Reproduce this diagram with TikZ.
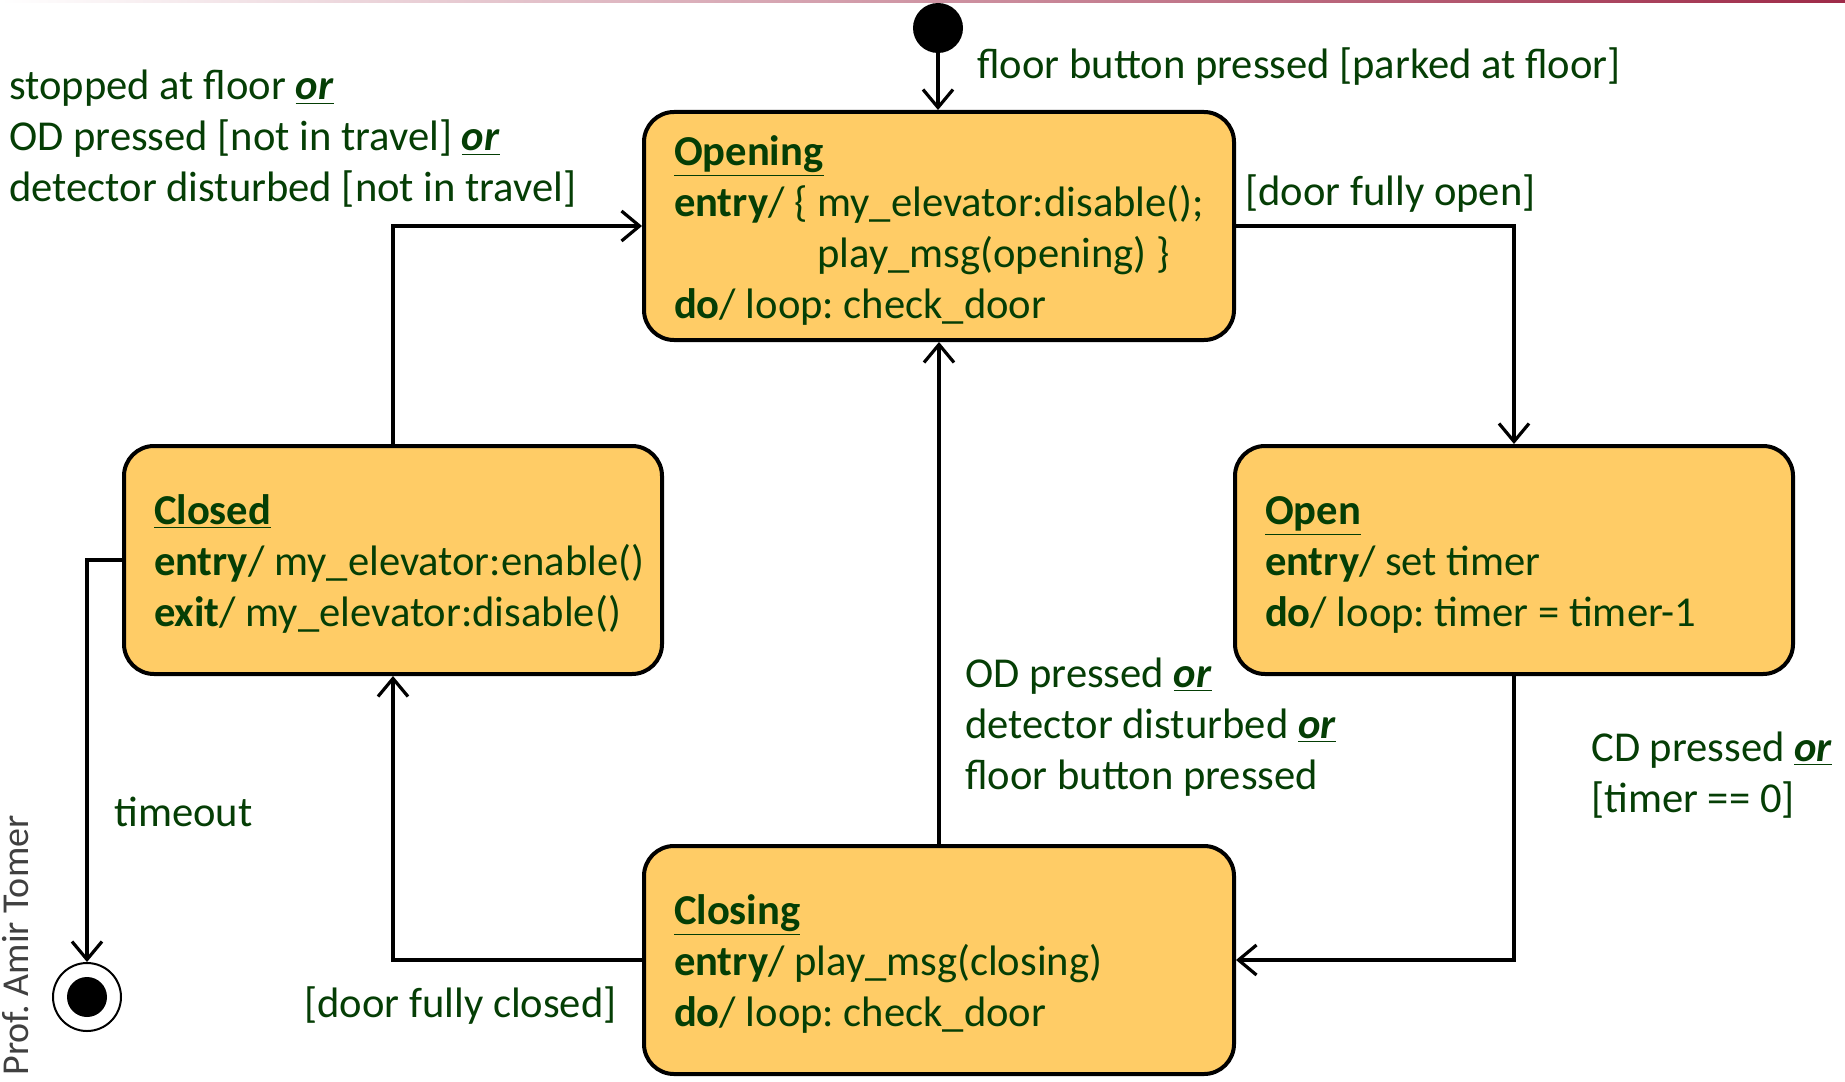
\documentclass[tikz,border=0pt]{standalone}
\usepackage{fontspec}
\setmainfont{Carlito}
\usetikzlibrary{arrows.meta, positioning, calc}

\definecolor{txtgreen}{RGB}{5,62,5}
\definecolor{statefill}{RGB}{255,204,102}
\definecolor{barred}{RGB}{158,42,72}

\tikzstyle{statebox} = [draw, line width=2pt, fill=statefill, rounded corners=15pt,
    align=flush left, text=txtgreen, inner xsep=15pt, minimum height=114pt]
\tikzstyle{arrow} = [line width=1.6pt, -{Straight Barb[length=9pt,width=15pt,line width=1.6pt]}]
\tikzstyle{guard} = [text=txtgreen, align=flush left, inner sep=0pt]

\newcommand{\orword}{\underline{\textbf{\textit{or}}}}
\newcommand{\sttitle}[1]{\rule{0pt}{19pt}\underline{\textbf{#1}}}
\frenchspacing

\begin{document}
\begin{tikzpicture}[x=0.5pt, y=-0.5pt, font=\fontsize{21.3}{25.5}\selectfont\frenchspacing]
    \useasboundingbox (0,0) rectangle (1845,1081);
    \shade[left color=white, right color=barred] (0,0) rectangle (1845,3);

    % states
    \node[statebox, text width=265pt] (opening) at (939,226)
        {\sttitle{Opening}\\
         \mbox{\textbf{entry}/ \{ my\_elevator:disable();}\\
         \mbox{\phantom{\textbf{entry}/ \{ }play\_msg(opening) \}}\\
         \mbox{\textbf{do}/ loop: check\_door}};
    \node[statebox, text width=239pt] (closed) at (393,560)
        {\sttitle{Closed}\\
         \mbox{\textbf{entry}/ my\_elevator:enable()}\\
         \mbox{\textbf{exit}/ my\_elevator:disable()}};
    \node[statebox, text width=249pt] (open) at (1514,560)
        {\sttitle{Open}\\
         \mbox{\textbf{entry}/ set timer}\\
         \mbox{\textbf{do}/ loop: timer = timer-1}};
    \node[statebox, text width=265pt] (closing) at (939,960)
        {\sttitle{Closing}\\
         \mbox{\textbf{entry}/ play\_msg(closing)}\\
         \mbox{\textbf{do}/ loop: check\_door}};

    % pseudo states
    \node[circle, fill=black, minimum size=25pt, inner sep=0pt] (init) at (938,28) {};
    \node[circle, draw, line width=1pt, minimum size=34pt, inner sep=0pt] (final) at (87,997) {};
    \node[circle, fill=black, minimum size=20pt, inner sep=0pt] (finaldot) at (final) {};

    % transitions
    \draw[arrow] (init) -- (init |- opening.north);
    \draw[arrow] (closed.north) |- (opening.west);
    \draw[arrow] (opening.east) -| (open.north);
    \draw[arrow] (open.south) |- (closing.east);
    \draw[arrow] (closing.north) -- (opening.south);
    \draw[arrow] (closing.west) -| (closed.south);
    \draw[arrow] (closed.west) -| (final.north);

    % guards and triggers
    \node[guard, anchor=west] (tinit) at (977,67) {floor button pressed [parked at floor]};
    \node[guard, anchor=west] (treopen) at (9,139)
        {stopped at floor \orword\\ OD pressed [not in travel] \orword\\ detector disturbed [not in travel]};
    \node[guard, anchor=west] (topened) at (1245,194) {[door fully open]};
    \node[guard, anchor=west] (tback) at (965,727)
        {OD pressed \orword\\ detector disturbed \orword\\ floor button pressed};
    \node[guard, anchor=west] (tclose) at (1591,775) {CD pressed \orword\\ {}[timer == 0]};
    \node[guard, anchor=west] (ttimeout) at (114,812) {timeout};
    \node[guard, anchor=west] (tclosed) at (304,1006) {[door fully closed]};

    \node[rotate=90, anchor=base west, inner sep=0pt, text=black!75,
        font=\fontsize{19}{22}\selectfont] (author) at (28,1076) {Prof. Amir Tomer};
\end{tikzpicture}
\end{document}
